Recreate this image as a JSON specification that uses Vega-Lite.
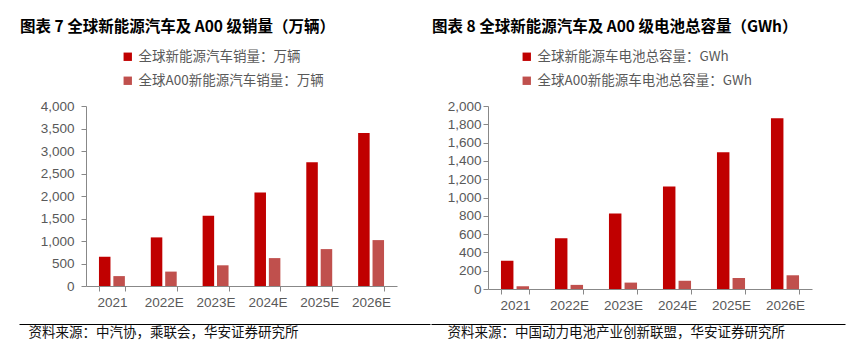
{
  "$schema": "https://vega.github.io/schema/vega-lite/v6.json",
  "padding": {"left": 19, "top": 19, "right": 5, "bottom": 5},
  "bounds": "flush",
  "spacing": 91,
  "background": "white",
  "resolve": {
    "scale": {"x": "independent", "y": "independent", "xOffset": "independent", "color": "independent"},
    "legend": {"color": "independent"}
  },
  "config": {
    "view": {"stroke": null},
    "font": "Liberation Sans",
    "axis": {
      "labelFont": "Liberation Sans",
      "labelFontSize": 13.5,
      "labelColor": "#595959",
      "domainColor": "#888888",
      "tickColor": "#888888",
      "tickSize": 5,
      "grid": false
    }
  },
  "hconcat": [
    {
      "width": 311,
      "height": 180,
      "title": {
        "text": "图表 7 全球新能源汽车及 A00 级销量（万辆）",
        "anchor": "start",
        "frame": "group",
        "dx": -66,
        "offset": 15,
        "font": "Noto Sans CJK SC",
        "fontSize": 15.5,
        "fontWeight": "bold",
        "color": "#000000"
      },
      "resolve": {"scale": {"x": "independent"}, "axis": {"x": "independent"}},
      "layer": [
        {
          "data": {
            "values": [
              {"year": "2021", "series": "全球新能源汽车销量：万辆", "value": 650},
              {"year": "2021", "series": "全球A00新能源汽车销量：万辆", "value": 220},
              {"year": "2022E", "series": "全球新能源汽车销量：万辆", "value": 1080},
              {"year": "2022E", "series": "全球A00新能源汽车销量：万辆", "value": 320},
              {"year": "2023E", "series": "全球新能源汽车销量：万辆", "value": 1560},
              {"year": "2023E", "series": "全球A00新能源汽车销量：万辆", "value": 460},
              {"year": "2024E", "series": "全球新能源汽车销量：万辆", "value": 2080},
              {"year": "2024E", "series": "全球A00新能源汽车销量：万辆", "value": 620},
              {"year": "2025E", "series": "全球新能源汽车销量：万辆", "value": 2750},
              {"year": "2025E", "series": "全球A00新能源汽车销量：万辆", "value": 820},
              {"year": "2026E", "series": "全球新能源汽车销量：万辆", "value": 3400},
              {"year": "2026E", "series": "全球A00新能源汽车销量：万辆", "value": 1020}
            ]
          },
          "mark": {"type": "bar"},
          "encoding": {
            "x": {
              "field": "year", "type": "nominal", "sort": null,
              "scale": {"paddingInner": 0.5, "paddingOuter": 0.25},
              "axis": {
                "labelAngle": 0, "tickBand": "extent", "labelPadding": 4,
                "title": "资料来源：中汽协，乘联会，华安证券研究所",
                "titleFont": "Noto Sans CJK SC", "titleFontSize": 13.5, "titleFontWeight": "normal",
                "titleColor": "#111111", "titleAnchor": "start", "titleAlign": "left",
                "titleX": -58, "titleY": 50, "titleBaseline": "alphabetic"
              }
            },
            "xOffset": {
              "field": "series", "type": "nominal",
              "sort": ["全球新能源汽车销量：万辆", "全球A00新能源汽车销量：万辆"],
              "scale": {"paddingInner": 0.2}
            },
            "y": {
              "field": "value", "type": "quantitative",
              "scale": {"domain": [0, 4000]},
              "axis": {"title": null, "values": [0, 500, 1000, 1500, 2000, 2500, 3000, 3500, 4000], "format": ",.0f", "labelPadding": 7}
            },
            "color": {
              "field": "series", "type": "nominal",
              "scale": {
                "domain": ["全球新能源汽车销量：万辆", "全球A00新能源汽车销量：万辆"],
                "range": ["#C00000", "#C0504D"]
              },
              "legend": {
                "title": null, "orient": "none", "legendX": 35, "legendY": -56,
                "symbolType": "square", "symbolSize": 70, "symbolStrokeWidth": 0,
                "labelFont": "Noto Sans CJK SC", "labelFontSize": 13.5, "labelColor": "#595959",
                "rowPadding": 9, "labelOffset": 4, "labelLimit": 300
              }
            }
          }
        },
        {
          "data": {"values": [{"edge": 0}]},
          "mark": {"type": "rule", "opacity": 0},
          "encoding": {
            "x": {
              "field": "edge", "type": "quantitative",
              "scale": {"domain": [0, 1], "range": [-67, 344]},
              "axis": {"orient": "bottom", "offset": 38, "domain": true, "domainColor": "#000000", "domainWidth": 1.2, "ticks": false, "labels": false, "title": null}
            }
          }
        }
      ]
    },
    {
      "width": 324,
      "height": 183,
      "title": {
        "text": "图表 8 全球新能源汽车及 A00 级电池总容量（GWh）",
        "anchor": "start",
        "frame": "group",
        "dx": -56,
        "offset": 15,
        "font": "Noto Sans CJK SC",
        "fontSize": 15.5,
        "fontWeight": "bold",
        "color": "#000000"
      },
      "resolve": {"scale": {"x": "independent"}, "axis": {"x": "independent"}},
      "layer": [
        {
          "data": {
            "values": [
              {"year": "2021", "series": "全球新能源车电池总容量：GWh", "value": 310},
              {"year": "2021", "series": "全球A00新能源车电池总容量：GWh", "value": 30},
              {"year": "2022E", "series": "全球新能源车电池总容量：GWh", "value": 555},
              {"year": "2022E", "series": "全球A00新能源车电池总容量：GWh", "value": 45},
              {"year": "2023E", "series": "全球新能源车电池总容量：GWh", "value": 825},
              {"year": "2023E", "series": "全球A00新能源车电池总容量：GWh", "value": 70},
              {"year": "2024E", "series": "全球新能源车电池总容量：GWh", "value": 1120},
              {"year": "2024E", "series": "全球A00新能源车电池总容量：GWh", "value": 90},
              {"year": "2025E", "series": "全球新能源车电池总容量：GWh", "value": 1495},
              {"year": "2025E", "series": "全球A00新能源车电池总容量：GWh", "value": 120},
              {"year": "2026E", "series": "全球新能源车电池总容量：GWh", "value": 1865},
              {"year": "2026E", "series": "全球A00新能源车电池总容量：GWh", "value": 150}
            ]
          },
          "mark": {"type": "bar"},
          "encoding": {
            "x": {
              "field": "year", "type": "nominal", "sort": null,
              "scale": {"paddingInner": 0.48, "paddingOuter": 0.24},
              "axis": {
                "labelAngle": 0, "tickBand": "extent", "labelPadding": 4,
                "title": "资料来源：中国动力电池产业创新联盟，华安证券研究所",
                "titleFont": "Noto Sans CJK SC", "titleFontSize": 13.5, "titleFontWeight": "normal",
                "titleColor": "#111111", "titleAnchor": "start", "titleAlign": "left",
                "titleX": -41, "titleY": 47, "titleBaseline": "alphabetic"
              }
            },
            "xOffset": {
              "field": "series", "type": "nominal",
              "sort": ["全球新能源车电池总容量：GWh", "全球A00新能源车电池总容量：GWh"],
              "scale": {"paddingInner": 0.2}
            },
            "y": {
              "field": "value", "type": "quantitative",
              "scale": {"domain": [0, 2000]},
              "axis": {"title": null, "values": [0, 200, 400, 600, 800, 1000, 1200, 1400, 1600, 1800, 2000], "format": ",.0f", "labelPadding": 2}
            },
            "color": {
              "field": "series", "type": "nominal",
              "scale": {
                "domain": ["全球新能源车电池总容量：GWh", "全球A00新能源车电池总容量：GWh"],
                "range": ["#C00000", "#C0504D"]
              },
              "legend": {
                "title": null, "orient": "none", "legendX": 32, "legendY": -56,
                "symbolType": "square", "symbolSize": 70, "symbolStrokeWidth": 0,
                "labelFont": "Noto Sans CJK SC", "labelFontSize": 13.5, "labelColor": "#595959",
                "rowPadding": 9, "labelOffset": 4, "labelLimit": 300
              }
            }
          }
        },
        {
          "data": {"values": [{"edge": 0}]},
          "mark": {"type": "rule", "opacity": 0},
          "encoding": {
            "x": {
              "field": "edge", "type": "quantitative",
              "scale": {"domain": [0, 1], "range": [-57, 357]},
              "axis": {"orient": "bottom", "offset": 35, "domain": true, "domainColor": "#000000", "domainWidth": 1.2, "ticks": false, "labels": false, "title": null}
            }
          }
        }
      ]
    }
  ]
}
